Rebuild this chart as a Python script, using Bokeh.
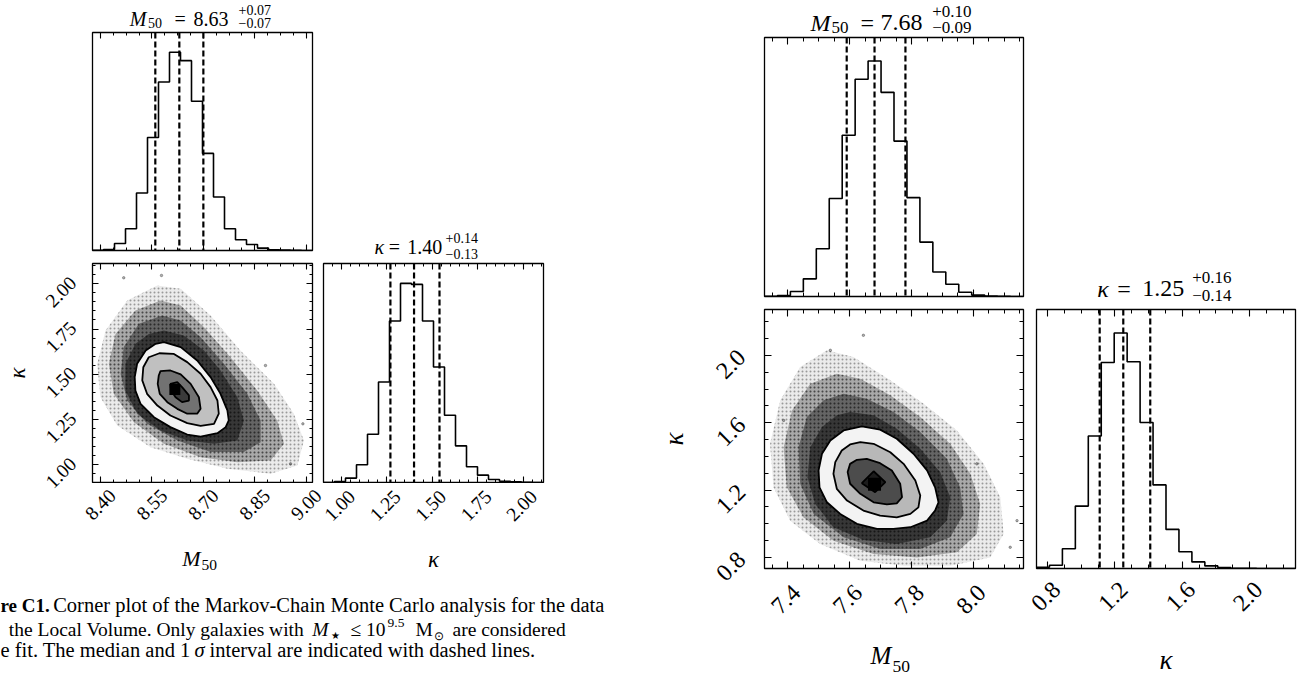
import numpy as np
from bokeh.plotting import figure
from bokeh.layouts import column, row
from bokeh.models import (FixedTicker, LinearAxis, Range1d, Span, Label, LabelSet,
                          ColumnDataSource, CustomJSTickFormatter)
from bokeh.embed import file_html
from bokeh.resources import INLINE
from bokeh.core.properties import value

SERIF = "Liberation Serif"

# ====================== LEFT corner plot ======================
L_M50_RANGE = [8.377, 9.018]
L_KAP_RANGE = [0.902, 2.112]
L_M50_TICKS = [8.40, 8.55, 8.70, 8.85, 9.00]
L_M50_TICKLABELS = ["8.40", "8.55", "8.70", "8.85", "9.00"]
L_KAP_TICKS = [1.00, 1.25, 1.50, 1.75, 2.00]
L_KAP_TICKLABELS = ["1.00", "1.25", "1.50", "1.75", "2.00"]
L_M50_MINOR_STEP = 0.0375
L_KAP_MINOR_STEP = 0.05
L_M50_HIST = [0.001, 0.005, 0.035, 0.11, 0.29, 0.57, 0.85, 1.0, 0.958, 0.753,
              0.49, 0.27, 0.11, 0.054, 0.03, 0.012, 0.004, 0.002, 0.001, 0.0]
L_KAP_HIST = [0.0, 0.005, 0.022, 0.089, 0.242, 0.505, 0.811, 1.0, 0.995, 0.811,
              0.58, 0.338, 0.184, 0.079, 0.037, 0.015, 0.006, 0.003, 0.001, 0.0]
L_M50_FIT = [8.63, 0.07, 0.07]   # median, +err, -err
L_KAP_FIT = [1.40, 0.14, 0.13]

L_C1_X = [8.585, 8.634, 8.682, 8.721, 8.750, 8.770, 8.774, 8.765, 8.741, 8.692, 8.653, 8.604,
          8.556, 8.517, 8.502, 8.500, 8.507, 8.532, 8.561]
L_C1_Y = [1.677, 1.650, 1.576, 1.484, 1.392, 1.300, 1.245, 1.208, 1.1745, 1.156, 1.167, 1.208,
          1.263, 1.337, 1.410, 1.484, 1.558, 1.631, 1.668]
L_C2_X = [8.572, 8.613, 8.653, 8.692, 8.721, 8.741, 8.745, 8.731, 8.692, 8.653, 8.604, 8.566,
          8.536, 8.522, 8.525, 8.541]
L_C2_Y = [1.616, 1.613, 1.567, 1.503, 1.429, 1.355, 1.282, 1.226, 1.215, 1.230, 1.272, 1.327,
          1.392, 1.466, 1.539, 1.594]
L_C3_X = [8.575, 8.604, 8.634, 8.663, 8.687, 8.692, 8.682, 8.653, 8.624, 8.595, 8.573, 8.567, 8.570]
L_C3_Y = [1.517, 1.521, 1.499, 1.447, 1.373, 1.309, 1.282, 1.282, 1.309, 1.346, 1.392, 1.447, 1.493]
L_C4_X = [8.604, 8.624, 8.638, 8.658, 8.658, 8.638, 8.619, 8.606]
L_C4_Y = [1.447, 1.456, 1.429, 1.383, 1.355, 1.346, 1.373, 1.410]
L_PEAK_CELL = [8.601, 8.633, 1.386, 1.4465]   # left, right, bottom, top

L_B1_X = [8.5655, 8.634, 8.721, 8.808, 8.906, 8.964, 8.993, 8.974, 8.896, 8.770, 8.653, 8.546,
          8.449, 8.400, 8.3906, 8.415, 8.478]
L_B1_Y = [1.9905, 1.972, 1.825, 1.631, 1.447, 1.281, 1.134, 0.996, 0.950, 0.978, 1.033, 1.097,
          1.217, 1.3735, 1.558, 1.742, 1.908]
L_B2_X = [8.575, 8.634, 8.702, 8.779, 8.857, 8.915, 8.935, 8.896, 8.799, 8.692, 8.585, 8.4975,
          8.439, 8.4246, 8.444, 8.502]
L_B2_Y = [1.908, 1.880, 1.760, 1.5945, 1.410, 1.245, 1.1157, 1.024, 1.0144, 1.042, 1.1157, 1.2354,
          1.392, 1.558, 1.723, 1.852]
L_B3_X = [8.580, 8.634, 8.692, 8.760, 8.828, 8.867, 8.867, 8.818, 8.721, 8.624, 8.536, 8.478,
          8.459, 8.468, 8.512]
L_B3_Y = [1.825, 1.797, 1.705, 1.558, 1.392, 1.245, 1.125, 1.070, 1.070, 1.134, 1.226, 1.355,
          1.502, 1.650, 1.779]
L_B4_X = [8.585, 8.643, 8.702, 8.750, 8.799, 8.818, 8.799, 8.731, 8.653, 8.575, 8.507, 8.473,
          8.473, 8.502, 8.541]
L_B4_Y = [1.742, 1.714, 1.631, 1.521, 1.3735, 1.245, 1.134, 1.1157, 1.134, 1.189, 1.281, 1.410,
          1.558, 1.668, 1.723]
L_OUT_X = [8.468, 8.578, 8.881, 8.990, 8.954]
L_OUT_Y = [2.033, 2.046, 1.5485, 1.226, 1.005]

# ====================== RIGHT corner plot ======================
R_M50_RANGE = [7.324, 8.162]
R_KAP_RANGE = [0.735, 2.272]
R_M50_TICKS = [7.4, 7.6, 7.8, 8.0]
R_M50_TICKLABELS = ["7.4", "7.6", "7.8", "8.0"]
R_KAP_TICKS = [0.8, 1.2, 1.6, 2.0]
R_KAP_TICKLABELS = ["0.8", "1.2", "1.6", "2.0"]
R_M50_MINOR_STEP = 0.05
R_KAP_MINOR_STEP = 0.1
R_M50_HIST = [0.001, 0.004, 0.021, 0.075, 0.203, 0.416, 0.685, 0.923, 1.0, 0.867,
              0.660, 0.420, 0.231, 0.104, 0.052, 0.018, 0.006, 0.002, 0.001, 0.0]
R_KAP_HIST = [0.005, 0.014, 0.084, 0.265, 0.563, 0.875, 1.0, 0.878, 0.620, 0.355,
              0.166, 0.071, 0.028, 0.011, 0.004, 0.001, 0.0005, 0.0, 0.0, 0.0]
R_M50_FIT = [7.68, 0.10, 0.09]
R_KAP_FIT = [1.25, 0.16, 0.14]

R_C1_X = [7.639, 7.698, 7.752, 7.806, 7.850, 7.876, 7.887, 7.876, 7.850, 7.796, 7.741, 7.688,
          7.623, 7.569, 7.526, 7.502, 7.499, 7.510, 7.537, 7.580]
R_C1_Y = [1.578, 1.559, 1.505, 1.416, 1.317, 1.217, 1.128, 1.079, 1.019, 0.980, 0.970, 0.970,
          1.000, 1.059, 1.128, 1.217, 1.317, 1.416, 1.495, 1.554]
R_C2_X = [7.634, 7.677, 7.731, 7.774, 7.812, 7.828, 7.822, 7.796, 7.752, 7.698, 7.644, 7.591,
          7.558, 7.547, 7.553, 7.574, 7.601]
R_C2_Y = [1.485, 1.475, 1.425, 1.356, 1.257, 1.168, 1.098, 1.059, 1.039, 1.049, 1.079, 1.138,
          1.208, 1.297, 1.366, 1.435, 1.471]
R_C3_X = [7.623, 7.655, 7.698, 7.736, 7.763, 7.769, 7.752, 7.720, 7.677, 7.634, 7.601, 7.593, 7.601]
R_C3_Y = [1.380, 1.386, 1.360, 1.317, 1.238, 1.158, 1.122, 1.115, 1.128, 1.178, 1.238, 1.307, 1.356]
R_C4_X = [7.677, 7.715, 7.682, 7.639]
R_C4_Y = [1.312, 1.247, 1.188, 1.241]
R_PEAK_CELL = [7.659, 7.701, 1.196, 1.273]

R_B1_X = [7.526, 7.612, 7.731, 7.839, 7.9465, 8.033, 8.087, 8.0976, 8.054, 7.925, 7.774, 7.634,
          7.504, 7.407, 7.353, 7.342, 7.375, 7.4395]
R_B1_Y = [2.030, 1.990, 1.852, 1.713, 1.5544, 1.356, 1.158, 0.940, 0.801, 0.752, 0.752, 0.7815,
          0.881, 1.019, 1.2175, 1.475, 1.733, 1.931]
R_B2_X = [7.558, 7.634, 7.731, 7.828, 7.925, 7.990, 8.022, 8.011, 7.9465, 7.817, 7.677, 7.547,
          7.450, 7.396, 7.386, 7.413, 7.472]
R_B2_Y = [1.891, 1.8616, 1.7625, 1.634, 1.475, 1.297, 1.1184, 0.940, 0.831, 0.801, 0.821, 0.900,
          1.039, 1.2175, 1.455, 1.673, 1.832]
R_B3_X = [7.580, 7.655, 7.7416, 7.828, 7.914, 7.957, 7.968, 7.925, 7.828, 7.698, 7.580, 7.483,
          7.4395, 7.434, 7.461, 7.515]
R_B3_Y = [1.772, 1.743, 1.6634, 1.5445, 1.386, 1.2175, 1.059, 0.920, 0.851, 0.851, 0.920, 1.059,
          1.2373, 1.455, 1.634, 1.733]
R_B4_X = [7.601, 7.677, 7.752, 7.828, 7.8926, 7.925, 7.914, 7.860, 7.752, 7.6445, 7.547, 7.488,
          7.463, 7.472, 7.510, 7.558]
R_B4_Y = [1.6634, 1.644, 1.564, 1.4454, 1.3067, 1.158, 1.019, 0.920, 0.881, 0.904, 0.980, 1.1184,
          1.277, 1.455, 1.574, 1.644]
R_OUT_X = [7.644, 7.537, 8.011, 8.141, 8.119, 7.386]
R_OUT_Y = [2.119, 2.030, 1.356, 1.019, 0.861, 1.614]

CAPTION = [
    "re C1.",
    "Corner plot of the Markov-Chain Monte Carlo analysis for the data",
    "the Local Volume. Only galaxies with",
    "are considered",
    "e fit. The median and 1",
    "interval are indicated with dashed lines.",
]


# ====================== helpers ======================
def minor_ticks(ticks, step, rng):
    k = int(np.ceil((ticks[0] - rng[0]) / step))
    start = ticks[0] - k * step
    return [float(v) for v in np.arange(start, rng[1] + 1e-9, step)]


def mapped_range(rng, p0, p1, f0, f1, flip=False):
    """Range for a text strip spanning pixels f0..f1 so that the data range `rng`
    falls on pixels p0..p1 (flip=True for vertical, pixels growing downward)."""
    lo, hi = rng
    s = (hi - lo) / (p1 - p0)
    if not flip:
        return Range1d(lo + (f0 - p0) * s, lo + (f1 - p0) * s)
    return Range1d(lo + (p1 - f1) * s, lo + (p1 - f0) * s)


def base_fig(w, h, xr, yr, bl, br, bt, bb):
    p = figure(width=w, height=h, x_range=Range1d(*xr), y_range=Range1d(*yr),
               x_axis_type=None, y_axis_type=None, output_backend="svg",
               toolbar_location=None, min_border_left=bl, min_border_right=br,
               min_border_top=bt, min_border_bottom=bb)
    p.outline_line_color = "black"
    p.outline_line_width = 1.3
    p.outline_line_alpha = 1.0
    p.background_fill_color = "white"
    p.border_fill_color = "white"
    return p


def text_fig(w, h, xr=None, yr=None, bl=0, br=0):
    p = figure(width=w, height=h, x_range=xr or Range1d(0, 1), y_range=yr or Range1d(0, 1),
               x_axis_type=None, y_axis_type=None, output_backend="svg",
               toolbar_location=None, min_border=0, min_border_left=bl,
               min_border_right=br)
    p.outline_line_color = None
    p.background_fill_color = "white"
    p.border_fill_color = "white"
    return p


def tick_axes(p, ticks, minor, sides, maj, mnr):
    for side in sides:
        ax = LinearAxis(ticker=FixedTicker(ticks=list(ticks), minor_ticks=minor),
                        formatter=CustomJSTickFormatter(code="return ''"),
                        major_label_text_font_size="0px", major_label_standoff=0,
                        axis_line_color=None,
                        major_tick_in=maj, major_tick_out=0,
                        minor_tick_in=mnr, minor_tick_out=0,
                        major_tick_line_color="black", minor_tick_line_color="black",
                        major_tick_line_width=1.1, minor_tick_line_width=1.0)
        p.add_layout(ax, side)


def add_text(p, x, y, text, size, dx=0, dy=0, italic=False, bold=False, align="left",
             baseline="middle", angle=0.0, xu="data", yu="screen", xrn="default"):
    style = "italic" if italic else ("bold" if bold else "normal")
    p.add_layout(Label(x=x, y=y, x_units=xu, y_units=yu, x_range_name=xrn, text=text,
                       x_offset=dx, y_offset=dy, text_font=SERIF,
                       text_font_size=f"{size}px", text_font_style=style,
                       text_color="black", text_align=align, text_baseline=baseline,
                       angle=angle))


def fit_title(p, rng, symbol, sub, fit, big, small, dxs, ys):
    """ys: screen heights (text middles) of main text, name subscript, upper and lower error."""
    xc = 0.5 * (rng[0] + rng[1])
    med, up, lo = fit
    add_text(p, xc, ys[0], symbol, big, dxs[0], italic=True)
    if sub:
        add_text(p, xc, ys[1], sub, small, dxs[1])
    add_text(p, xc, ys[0], "=", big, dxs[2])
    add_text(p, xc, ys[0], f"{med:.2f}", big, dxs[3])
    add_text(p, xc, ys[2], f"+{up:.2f}", small, dxs[4])
    add_text(p, xc, ys[3], f"\u2212{lo:.2f}", small, dxs[5])


def hist_panel(w, h, bl, br, bt, bb, rng, hist, fit, ticks, minor, maj, mnr):
    p = base_fig(w, h, rng, [0, 1.1], bl, br, bt, bb)
    edges = np.linspace(rng[0], rng[1], len(hist) + 1)
    p.step(x=edges, y=list(hist) + [hist[-1]], mode="after",
           line_color="black", line_width=1.6)
    med, up, lo = fit
    for q in (med - lo, med, med + up):
        p.add_layout(Span(location=q, dimension="height", line_color="black",
                          line_dash="6 3", line_width=2.2))
    tick_axes(p, ticks, minor, ["below", "above"], maj, mnr)
    return p


def density_panel(w, h, bl, br, bt, bb, xr, yr, blobs, outx, outy, contours, bands, peak,
                  xt, xminor, yt, yminor, maj, mnr):
    p = base_fig(w, h, xr, yr, bl, br, bt, bb)
    alphas = (0.08, 0.28, 0.40, 0.45)
    for i, ((bx, by), a) in enumerate(zip(blobs, alphas)):
        if i < 2:
            p.patch(bx, by, fill_color="black", fill_alpha=a, line_color=None,
                    hatch_pattern="dot", hatch_color="black", hatch_alpha=0.35,
                    hatch_scale=4, hatch_weight=1)
        else:
            p.patch(bx, by, fill_color="black", fill_alpha=a, line_color=None)
    p.scatter(outx, outy, size=2.5, color="black", alpha=0.3)
    for (cx, cy), col in zip(contours, bands):
        p.patch(cx, cy, fill_color=col, line_color=None)
    p.quad(left=[peak[0]], right=[peak[1]], bottom=[peak[2]], top=[peak[3]],
           fill_color="black", line_color=None)
    for cx, cy in contours:
        p.patch(cx, cy, fill_color=None, line_color="black", line_width=1.8)
    tick_axes(p, xt, xminor, ["below", "above"], maj, mnr)
    tick_axes(p, yt, yminor, ["left", "right"], maj, mnr)
    return p


def tick_labelset(p, xs, ys, labels, size, dx, dy, xu, yu, xrn="default"):
    src = ColumnDataSource(dict(x=list(xs), y=list(ys), text=list(labels)))
    p.add_layout(LabelSet(x="x", y="y", text="text", source=src, angle=np.pi / 4,
                          x_units=xu, y_units=yu, x_range_name=xrn,
                          x_offset=dx, y_offset=dy, text_align="center",
                          text_baseline="middle", text_font=value(SERIF),
                          text_font_size=value(f"{size}px"), text_color="black"))


# ====================== LEFT block (x 0..640) ======================
Lm_minor = minor_ticks(L_M50_TICKS, L_M50_MINOR_STEP, L_M50_RANGE)
Lk_minor = minor_ticks(L_KAP_TICKS, L_KAP_MINOR_STEP, L_KAP_RANGE)

# panel frames (page pixels): M50 x 92..312, kappa x 323..543, top row y 32..250, bottom y 263..482
ts_l = text_fig(317, 31, xr=Range1d(*L_M50_RANGE), bl=92, br=5)
fit_title(ts_l, L_M50_RANGE, "M", "50", L_M50_FIT, 20, 14,
          [-72.7, -54.5, -28, -9, 36, 36], [12.6, 8.3, 21.1, 8.1])
L_top = hist_panel(317, 231, 92, 5, 1, 12, L_M50_RANGE, L_M50_HIST, L_M50_FIT,
                   L_M50_TICKS, Lm_minor, 6, 3)

kt_l = text_fig(323, 262, xr=mapped_range(L_KAP_RANGE, 323, 543, 317, 640))
fit_title(kt_l, L_KAP_RANGE, "\u03ba", None, L_KAP_FIT, 20, 14,
          [-59, 0, -44.7, -26.3, 12, 12], [15.3, 0, 24.6, 8.3])

ys_l = text_fig(80, 328, yr=mapped_range(L_KAP_RANGE, 263, 482, 262, 590, flip=True))
tick_labelset(ys_l, [60.5] * len(L_KAP_TICKS), L_KAP_TICKS, L_KAP_TICKLABELS, 19.5, 0, -8,
              "screen", "data")
add_text(ys_l, 16.7, 0.5 * (L_KAP_RANGE[0] + L_KAP_RANGE[1]), "\u03ba", 23, italic=True,
         align="center", angle=np.pi / 2, xu="screen", yu="data")

L_2d = density_panel(237, 221, 12, 5, 1, 1, L_M50_RANGE, L_KAP_RANGE,
                     [(L_B1_X, L_B1_Y), (L_B2_X, L_B2_Y), (L_B3_X, L_B3_Y), (L_B4_X, L_B4_Y)],
                     L_OUT_X, L_OUT_Y,
                     [(L_C1_X, L_C1_Y), (L_C2_X, L_C2_Y), (L_C3_X, L_C3_Y), (L_C4_X, L_C4_Y)],
                     ["#f3f3f3", "#c0c0c0", "#727272", "#3a3a3a"], L_PEAK_CELL,
                     L_M50_TICKS, Lm_minor, L_KAP_TICKS, Lk_minor, 6, 3)
L_k = hist_panel(323, 221, 6, 97, 1, 1, L_KAP_RANGE, L_KAP_HIST, L_KAP_FIT,
                 L_KAP_TICKS, Lk_minor, 6, 3)

xs_l = text_fig(560, 107, xr=mapped_range(L_M50_RANGE, 92, 312, 80, 640))
xs_l.extra_x_ranges = {"kap": mapped_range(L_KAP_RANGE, 323, 543, 80, 640)}
tick_labelset(xs_l, L_M50_TICKS, [86] * len(L_M50_TICKS), L_M50_TICKLABELS, 19.5, 0, 0,
              "data", "screen")
tick_labelset(xs_l, L_KAP_TICKS, [85] * len(L_KAP_TICKS), L_KAP_TICKLABELS, 19.5, -1.5, 0,
              "data", "screen", xrn="kap")
Lxc = 0.5 * (L_M50_RANGE[0] + L_M50_RANGE[1])
Lkc = 0.5 * (L_KAP_RANGE[0] + L_KAP_RANGE[1])
add_text(xs_l, Lxc, 32.3, "M", 22, -20.3, italic=True)
add_text(xs_l, Lxc, 25.1, "50", 15.5, -1.0)
add_text(xs_l, Lkc, 30.9, "\u03ba", 23, italic=True, align="center", xrn="kap")

cap = text_fig(640, 87)
add_text(cap, 0, 71.7, CAPTION[0], 19, bold=True, xu="screen")
add_text(cap, 52.7, 72.1, CAPTION[1], 20.5, xu="screen")
add_text(cap, 8.3, 48.4, CAPTION[2], 19.5, xu="screen")
add_text(cap, 311.7, 48.4, "M", 19.5, italic=True, xu="screen")
add_text(cap, 330, 41.8, "\u2605", 10, xu="screen")
add_text(cap, 350, 48.4, "\u2264 10", 19.5, xu="screen")
add_text(cap, 387, 54.5, "9.5", 13.5, xu="screen")
add_text(cap, 415, 48.4, "M", 19.5, xu="screen")
add_text(cap, 433, 42, "\u2299", 12, xu="screen")
add_text(cap, 452, 48.4, CAPTION[3], 19.5, xu="screen")
add_text(cap, 0, 27.1, CAPTION[4], 20.5, xu="screen")
add_text(cap, 194, 27.1, "\u03c3", 20.5, italic=True, xu="screen")
add_text(cap, 209, 27.1, CAPTION[5], 20.5, xu="screen")

left_block = column(
    row(column(ts_l, L_top), kt_l),
    row(ys_l, column(row(L_2d, L_k), xs_l)),
    cap,
)

# ====================== RIGHT block (x 640..1311) ======================
Rm_minor = minor_ticks(R_M50_TICKS, R_M50_MINOR_STEP, R_M50_RANGE)
Rk_minor = minor_ticks(R_KAP_TICKS, R_KAP_MINOR_STEP, R_KAP_RANGE)

# panel frames (page pixels): M50 x 764..1023, kappa x 1036..1295, top y 37..296, bottom y 309..568
ts_r = text_fig(389, 36, xr=Range1d(*R_M50_RANGE), bl=124, br=6)
fit_title(ts_r, R_M50_RANGE, "M", "50", R_M50_FIT, 24, 17,
          [-83.5, -62.5, -33.5, -13.5, 38.2, 38.2], [13.9, 8.8, 24.9, 8.8])
R_top = hist_panel(389, 269, 124, 6, 1, 9, R_M50_RANGE, R_M50_HIST, R_M50_FIT,
                   R_M50_TICKS, Rm_minor, 7, 4)

kt_r = text_fig(282, 305, xr=mapped_range(R_KAP_RANGE, 1036, 1295, 1029, 1311))
fit_title(kt_r, R_KAP_RANGE, "\u03ba", None, R_KAP_FIT, 24, 17,
          [-68.8, 0, -48.8, -23.8, 26.2, 26.2], [16.9, 0, 27.6, 10.1])

ys_r = text_fig(112, 372, yr=mapped_range(R_KAP_RANGE, 309, 568, 305, 677, flip=True))
tick_labelset(ys_r, [90.5] * len(R_KAP_TICKS), R_KAP_TICKS, R_KAP_TICKLABELS, 24, 0, -9,
              "screen", "data")
add_text(ys_r, 33.3, 0.5 * (R_KAP_RANGE[0] + R_KAP_RANGE[1]), "\u03ba", 27, italic=True,
         align="center", angle=np.pi / 2, xu="screen", yu="data")

R_2d = density_panel(277, 266, 12, 6, 4, 3, R_M50_RANGE, R_KAP_RANGE,
                     [(R_B1_X, R_B1_Y), (R_B2_X, R_B2_Y), (R_B3_X, R_B3_Y), (R_B4_X, R_B4_Y)],
                     R_OUT_X, R_OUT_Y,
                     [(R_C1_X, R_C1_Y), (R_C2_X, R_C2_Y), (R_C3_X, R_C3_Y), (R_C4_X, R_C4_Y)],
                     ["#f3f3f3", "#b8b8b8", "#4c4c4c", "#1c1c1c"], R_PEAK_CELL,
                     R_M50_TICKS, Rm_minor, R_KAP_TICKS, Rk_minor, 7, 4)
R_k = hist_panel(282, 266, 7, 16, 4, 3, R_KAP_RANGE, R_KAP_HIST, R_KAP_FIT,
                 R_KAP_TICKS, Rk_minor, 7, 4)

xs_r = text_fig(559, 106, xr=mapped_range(R_M50_RANGE, 764, 1023, 752, 1311))
xs_r.extra_x_ranges = {"kap": mapped_range(R_KAP_RANGE, 1036, 1295, 752, 1311)}
tick_labelset(xs_r, R_M50_TICKS, [78] * len(R_M50_TICKS), R_M50_TICKLABELS, 24, -2, 0,
              "data", "screen")
tick_labelset(xs_r, R_KAP_TICKS, [81] * len(R_KAP_TICKS), R_KAP_TICKLABELS, 24, -1.5, 0,
              "data", "screen", xrn="kap")
Rxc = 0.5 * (R_M50_RANGE[0] + R_M50_RANGE[1])
Rkc = 0.5 * (R_KAP_RANGE[0] + R_KAP_RANGE[1])
add_text(xs_r, Rxc, 21.95, "M", 25, -23.5, italic=True)
add_text(xs_r, Rxc, 11.1, "50", 17.5, -1.5)
add_text(xs_r, Rkc, 17.9, "\u03ba", 27, italic=True, align="center", xrn="kap")

right_block = column(
    row(column(ts_r, R_top), kt_r),
    row(ys_r, column(row(R_2d, R_k), xs_r)),
)

layout = row(left_block, right_block)

with open("out.html", "w") as f:
    f.write(file_html(layout, INLINE))
